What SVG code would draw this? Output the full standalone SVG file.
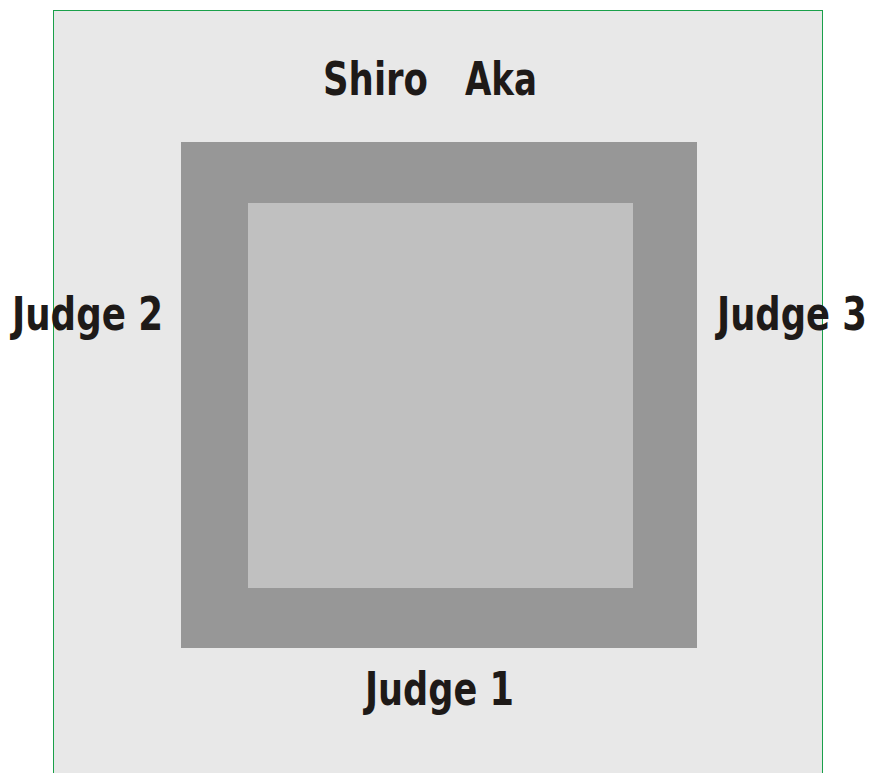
<svg xmlns="http://www.w3.org/2000/svg" width="876" height="773" viewBox="0 0 876 773">
<style>
.t{font-family:"DejaVu Sans Condensed","DejaVu Sans","Liberation Sans",sans-serif;font-weight:bold;font-size:47px;fill:#1e1a18}
</style>
<rect width="876" height="773" fill="#ffffff"/>
<g id="area">
<rect x="53.5" y="10.5" width="769" height="780" fill="#e8e8e8" stroke="#1aa04a" stroke-width="1"/>
</g>
<g id="safety">
<rect x="181" y="142" width="516" height="506" fill="#979797"/>
</g>
<g id="competition">
<rect x="248" y="203" width="385" height="385" fill="#c0c0c0"/>
</g>
<g id="shiro"><text class="t" x="323" y="95" textLength="105" lengthAdjust="spacingAndGlyphs">Shiro</text></g>
<g id="aka"><text class="t" x="465" y="95" textLength="72" lengthAdjust="spacingAndGlyphs">Aka</text></g>
<g id="judge2"><text class="t" x="12" y="330" textLength="151" lengthAdjust="spacingAndGlyphs">Judge 2</text></g>
<g id="judge3"><text class="t" x="717" y="330" textLength="150" lengthAdjust="spacingAndGlyphs">Judge 3</text></g>
<g id="judge1"><text class="t" x="365" y="705" textLength="149" lengthAdjust="spacingAndGlyphs">Judge 1</text></g>
<g id="connectors"/>
</svg>
